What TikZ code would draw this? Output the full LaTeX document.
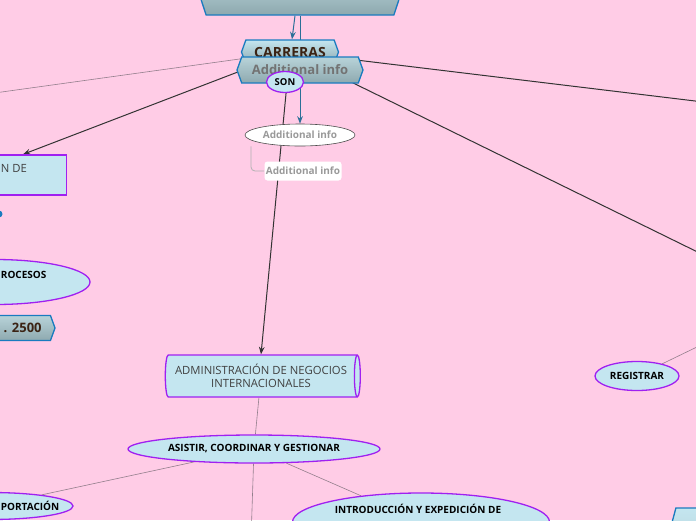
\documentclass[tikz,border=0pt]{standalone}
\usepackage{fontspec}
\setmainfont{Open Sans}
\usepackage{xcolor}
\usepackage{tikz}
\usetikzlibrary{arrows.meta, positioning, shapes.geometric, shapes.symbols}

\definecolor{bgpink}{HTML}{FFCCE6}
\definecolor{boxblue}{HTML}{C4E6F0}
\definecolor{rimblue}{HTML}{1A7BBF}
\definecolor{rimpurple}{HTML}{A020F0}
\definecolor{hexgray}{HTML}{8EA9AF}
\definecolor{hexlight}{HTML}{B8D3D9}
\definecolor{txtbrown}{HTML}{3B2314}
\definecolor{linkdark}{HTML}{333333}
\definecolor{linkthin}{HTML}{937F8C}
\definecolor{linkblue}{HTML}{2A6F97}

\pgfdeclarelayer{back}
\pgfsetlayers{back,main}

\begin{document}
\begin{tikzpicture}[x=1pt, y=-1pt, thick, >=Stealth,
    topic/.style={signal, signal to=east and west, signal pointer angle=140, draw=rimblue, line width=1.3pt,
        top color=hexlight, bottom color=hexgray, text=txtbrown, inner sep=0pt,
        font=\bfseries\fontsize{13}{15}\selectfont},
    cyl/.style={cylinder, aspect=0.25, draw=rimpurple, line width=1.3pt, fill=boxblue, inner sep=0pt,
        text=black!75, align=center, font=\fontsize{11.3}{13}\selectfont},
    oval/.style={ellipse, draw=rimpurple, line width=1.3pt, fill=boxblue, inner sep=0pt,
        font=\bfseries\fontsize{10}{12}\selectfont},
    bold/.style={font=\bfseries\fontsize{10}{12}\selectfont},
    info/.style={text=black!40, inner sep=0pt, font=\bfseries\fontsize{10}{12}\selectfont},
    link/.style={draw=linkdark, line width=1pt},
    twig/.style={draw=linkthin, line width=0.6pt}]

    \useasboundingbox (0,0) rectangle (696,520);
    \clip (0,0) rectangle (696,520);

    % centre of the map
    \node[trapezium, trapezium angle=94, trapezium stretches=true, draw=rimblue, line width=1.3pt,
        top color=hexlight, bottom color=hexgray, minimum width=214, minimum height=40] (root) at (300,-5) {};
    \node[topic, top color=boxblue, font=\bfseries\fontsize{14}{16}\selectfont, minimum width=97, minimum height=24] (carreras) at (290,52) {CARRERAS};
    \node[topic, text=black!55, minimum width=126, minimum height=26] (hex) at (300,70) {Additional info};
    \node[oval, font=\bfseries\fontsize{9.5}{11}\selectfont, minimum width=37, minimum height=21] (son) at (285,82) {SON};
    \node[ellipse, draw=black!70, line width=0.6pt, fill=white, info, minimum width=110, minimum height=22] (infoell) at (300,135) {Additional info};
    \node[rectangle, rounded corners=3pt, fill=white, info, minimum width=77, minimum height=19] (infolabel) at (303,171) {Additional info};

    % left branch
    \node[cyl, minimum height=86, minimum width=40] (lcyl) at (23,175) {};
    \node[text=black!75, font=\fontsize{11.3}{13}\selectfont, anchor=west, inner sep=0pt] (lcyltext) at (0.5,168) {N DE};
    \node[circle, fill=rimblue, minimum size=7, inner sep=0pt] (dot) at (-1,214) {};
    \node[oval, minimum width=190, minimum height=45] (procesos) at (-5,282) {};
    \node[bold, anchor=west, inner sep=0pt] (procesostext) at (0.5,275) {ROCESOS};
    \node[topic, minimum width=110, minimum height=25] (area) at (0,328) {};
    \node[anchor=east, inner sep=0pt, font=\bfseries\fontsize{13}{15}\selectfont, text=txtbrown] (areatext) at (42,328) {. 2500};

    % lower branch
    \node[cyl, minimum height=195, minimum width=42] (admin) at (261,376) {ADMINISTRACIÓN DE NEGOCIOS\\INTERNACIONALES};
    \node[oval, minimum width=252, minimum height=28] (asistir) at (254,449) {ASISTIR, COORDINAR Y GESTIONAR};
    \node[oval, minimum width=166, minimum height=27] (portacion) at (-10,506) {};
    \node[bold, anchor=west, inner sep=0pt] (portaciontext) at (0.5,506) {PORTACIÓN};
    \node[oval, minimum width=257, minimum height=58] (intro) at (421,522) {};
    \node[bold, inner sep=0pt] (introtext) at (418,509) {INTRODUCCIÓN Y EXPEDICIÓN DE};

    % right branch
    \node[oval, minimum width=84, minimum height=29] (registrar) at (637,376) {REGISTRAR};
    \node[topic, top color=boxblue, bottom color=hexlight, signal pointer angle=150, minimum width=160, minimum height=44] (corner) at (750,530) {};

    % loose ends
    \coordinate (offleft) at (-20,95);
    \coordinate (offright) at (720,104);
    \coordinate (offfar) at (720,263);
    \coordinate (offdown) at (251,540);
    \coordinate (offreg) at (730,331);

    \begin{pgfonlayer}{back}
        \fill[bgpink] (0,0) rectangle (696,520);

        \draw[->, draw=linkblue, line width=1pt] ([xshift=-5pt]root.south) -- ([xshift=2pt]carreras.north);
        \draw[->, draw=linkblue, line width=1pt] (root.south) -- (infoell.north);

        \draw[twig] (carreras.center) -- (offleft);
        \draw[->, link] (carreras.center) -- (lcyl.north);
        \draw[link] (carreras.center) -- (offright);
        \draw[link] (carreras.center) -- (offfar);
        \draw[->, link] (carreras.center) -- (admin.north);

        \draw[draw=black!30, line width=0.8pt, rounded corners=4pt] ([xshift=-49pt]infoell.south) |- (infolabel.west);

        \draw[twig] (admin) -- (asistir);
        \draw[twig] (asistir) -- (portacion);
        \draw[twig] (asistir) -- (offdown);
        \draw[twig] (asistir) -- (intro);
        \draw[twig] (registrar) -- (offreg);
    \end{pgfonlayer}
\end{tikzpicture}
\end{document}
